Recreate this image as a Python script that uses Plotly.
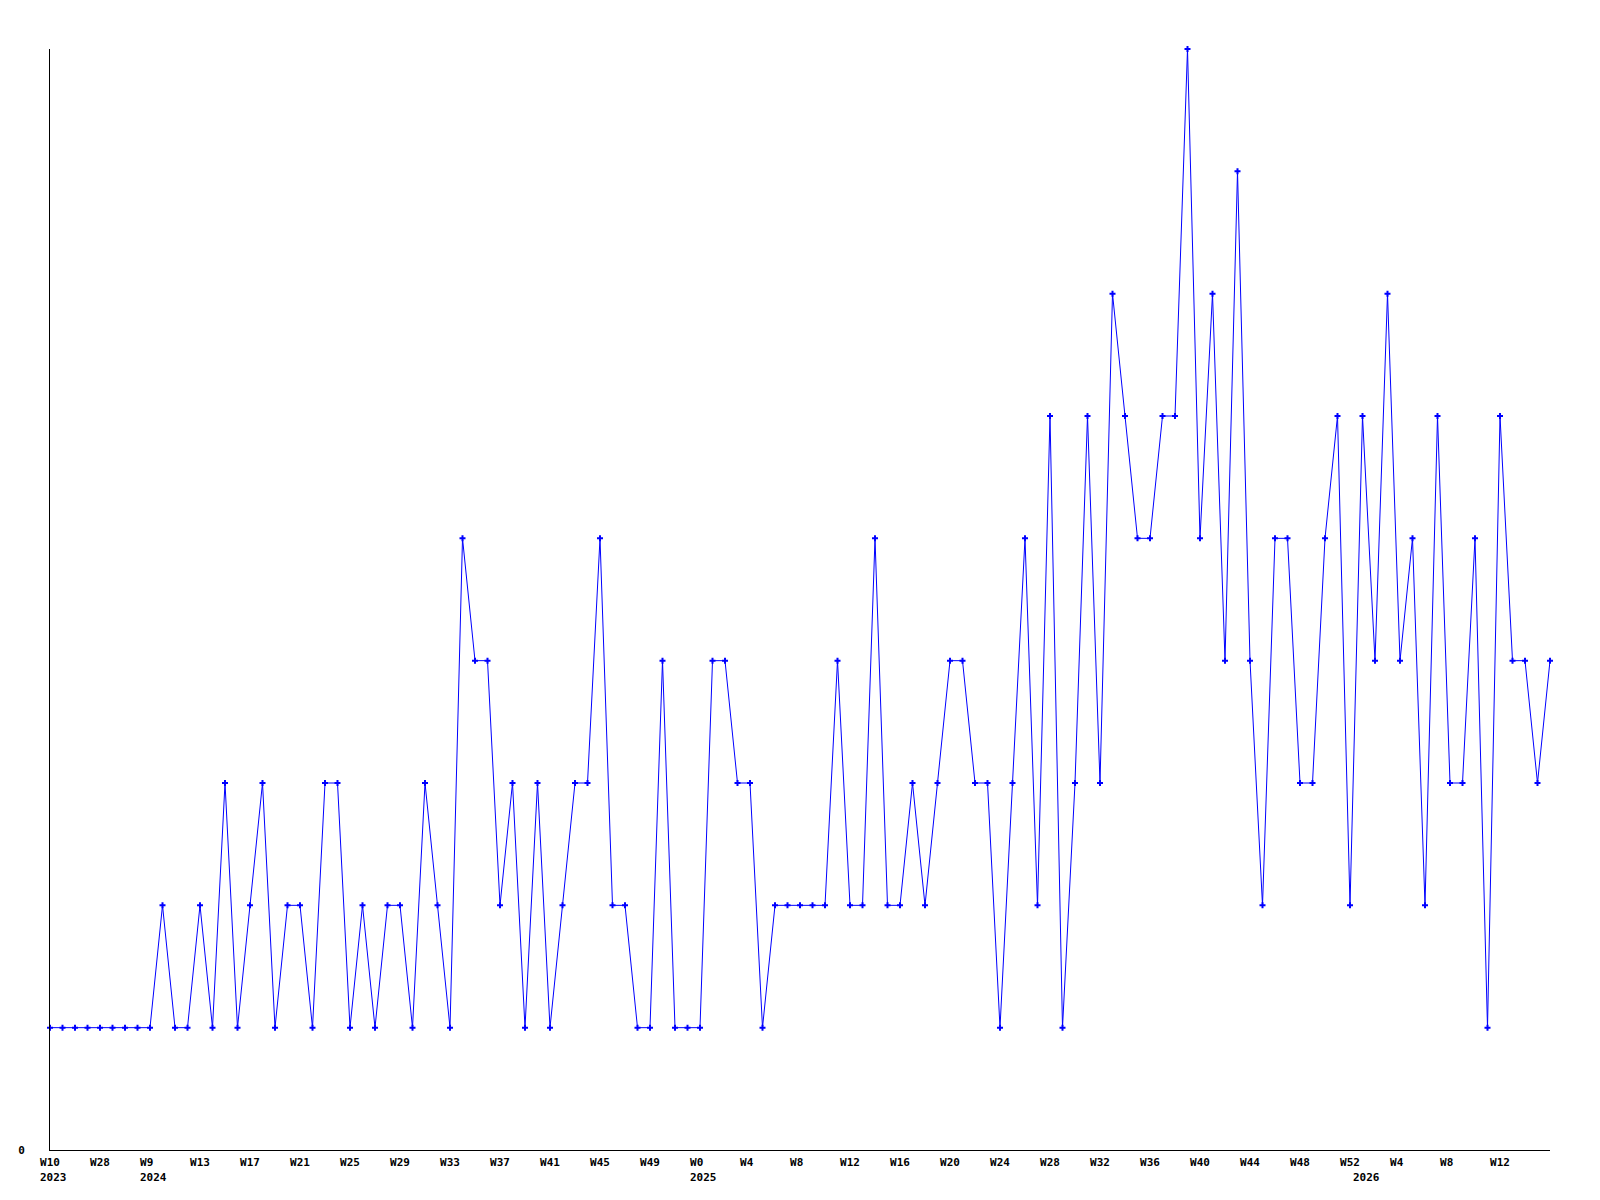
import plotly.graph_objects as go

# Weekly values, one per consecutive data point
values = [
    1, 1, 1, 1, 1, 1, 1, 1, 1, 2,
    1, 1, 2, 1, 3, 1, 2, 3, 1, 2,
    2, 1, 3, 3, 1, 2, 1, 2, 2, 1,
    3, 2, 1, 5, 4, 4, 2, 3, 1, 3,
    1, 2, 3, 3, 5, 2, 2, 1, 1, 4,
    1, 1, 1, 4, 4, 3, 3, 1, 2, 2,
    2, 2, 2, 4, 2, 2, 5, 2, 2, 3,
    2, 3, 4, 4, 3, 3, 1, 3, 5, 2,
    6, 1, 3, 6, 3, 7, 6, 5, 5, 6,
    6, 9, 5, 7, 4, 8, 4, 2, 5, 5,
    3, 3, 5, 6, 2, 6, 4, 7, 4, 5,
    2, 6, 3, 3, 5, 1, 6, 4, 4, 3,
    4,
]

# Week tick labels, one every 4 points
week_labels = [
    "W10", "W28", "W9", "W13", "W17", "W21", "W25", "W29", "W33", "W37",
    "W41", "W45", "W49", "W0", "W4", "W8", "W12", "W16", "W20", "W24",
    "W28", "W32", "W36", "W40", "W44", "W48", "W52", "W4", "W8", "W12",
]
tick_step = 4

# Year labels and the point index where each year starts
year_labels = ["2023", "2024", "2025", "2026"]
year_start_index = [0, 8, 52, 105]

x = list(range(len(values)))
tickvals = [i * tick_step for i in range(len(week_labels))]
# pad to a common width so that each label starts at the same offset from its tick
ticktext = [lab.ljust(3, "\u00a0") for lab in week_labels]

FONT = dict(family="DejaVu Sans Mono", size=11, color="black", weight="bold")

fig = go.Figure()
fig.add_trace(go.Scatter(
    x=x, y=values, mode="lines+markers",
    line=dict(color="#0000ff", width=1),
    marker=dict(symbol="cross", size=5, color="#0000ff", line=dict(width=0)),
    showlegend=False, cliponaxis=False,
))

for lab, idx in zip(year_labels, year_start_index):
    fig.add_annotation(
        x=idx, y=0, xref="x", yref="paper", text=lab, showarrow=False,
        xanchor="left", yanchor="middle", xshift=-12, yshift=-27.5,
        font=FONT,
    )

fig.update_layout(
    width=1600, height=1200,
    paper_bgcolor="white", plot_bgcolor="white",
    margin=dict(l=50, r=50, t=49, b=50),
    font=FONT,
)
fig.update_xaxes(
    range=[0, len(values) - 1], tickmode="array", tickvals=tickvals, ticktext=ticktext,
    showgrid=False, zeroline=False, showline=True, linecolor="black", linewidth=1,
    ticks="", tickangle=0, tickfont=FONT, ticklabelstandoff=2,
)
fig.update_yaxes(
    range=[0, max(values)], tickmode="array", tickvals=[0], ticktext=["0"],
    showgrid=False, zeroline=False, showline=True, linecolor="black", linewidth=1,
    ticks="", tickfont=FONT, ticklabelstandoff=22,
)

fig.write_html("out.html", config={"displayModeBar": False},
               post_script="document.body.style.margin='0';")
